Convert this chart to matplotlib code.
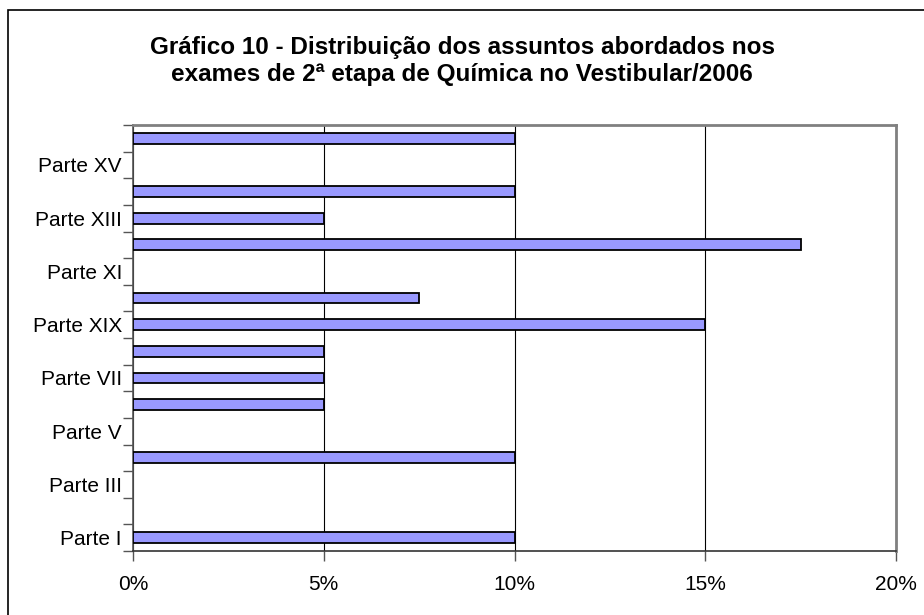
import matplotlib
matplotlib.use("Agg")
import matplotlib.pyplot as plt
from matplotlib.patches import Rectangle
from matplotlib.ticker import FixedLocator, PercentFormatter
import numpy as np

plt.rcParams["font.family"] = ["Liberation Sans", "DejaVu Sans"]

# Data (Parte I .. Parte XVI, bottom to top)
parts = ["Parte I", "Parte II", "Parte III", "Parte IV", "Parte V", "Parte VI",
         "Parte VII", "Parte VIII", "Parte IX", "Parte X", "Parte XI", "Parte XII",
         "Parte XIII", "Parte XIV", "Parte XV", "Parte XVI"]
values = [10, 0, 0, 10, 0, 5, 5, 5, 15, 7.5, 0, 17.5, 5, 10, 0, 10]
# labels shown on the axis (every other category, as in the original)
shown_labels = ["Parte I", "Parte III", "Parte V", "Parte VII", "Parte XIX",
                "Parte XI", "Parte XIII", "Parte XV"]
x_ticks = [0, 5, 10, 15, 20]

W, H = 924, 615
fig = plt.figure(figsize=(W / 100, H / 100), dpi=100)
ax = fig.add_axes([133 / W, 1 - 551 / H, (896 - 133) / W, (551 - 125) / H])

y = np.arange(len(parts))
edges = ["black" if v > 0 else "none" for v in values]
ax.barh(y, values, height=0.4, color="#9999ff", edgecolor=edges,
        linewidth=1.3, zorder=3)

ax.set_xlim(0, 20)
ax.set_ylim(-0.5, len(parts) - 0.5)

# x axis
ax.xaxis.set_major_locator(FixedLocator(x_ticks))
ax.xaxis.set_major_formatter(PercentFormatter(decimals=0))
ax.grid(axis="x", color="black", linewidth=0.8, zorder=0)
ax.tick_params(axis="x", direction="out", length=7, width=1, color="#555555",
               labelsize=15, pad=10)

# y axis: ticks at boundaries, labels at every other category center
ax.yaxis.set_major_locator(FixedLocator(np.arange(-0.5, len(parts), 1.0)))
ax.yaxis.set_major_formatter(plt.NullFormatter())
ax.yaxis.set_minor_locator(FixedLocator(y[::2]))
ax.set_yticklabels(shown_labels, minor=True)
ax.tick_params(axis="y", which="major", direction="out", length=7, width=1,
               color="#555555")
ax.tick_params(axis="y", which="minor", length=0, labelsize=15, pad=8)

for side in ["top", "right"]:
    ax.spines[side].set_color("#808080")
    ax.spines[side].set_linewidth(2)
ax.spines["left"].set_color("#555555")
ax.spines["bottom"].set_color("#333333")
ax.spines["left"].set_linewidth(1.2)
ax.spines["bottom"].set_linewidth(1.2)

fig.text(0.5, 1 - 61 / H,
         "Gráfico 10 - Distribuição dos assuntos abordados nos\n"
         "exames de 2ª etapa de Química no Vestibular/2006",
         ha="center", va="center", fontsize=17.5, fontweight="bold",
         linespacing=1.25)

# outer chart border (right and bottom edges fall outside the image)
fig.patches.append(Rectangle((8 / W, -0.05), 1.0, 1 - 10 / H + 0.05,
                             transform=fig.transFigure, fill=False,
                             edgecolor="black", linewidth=1.2))

fig.savefig("out.png", dpi=100)
